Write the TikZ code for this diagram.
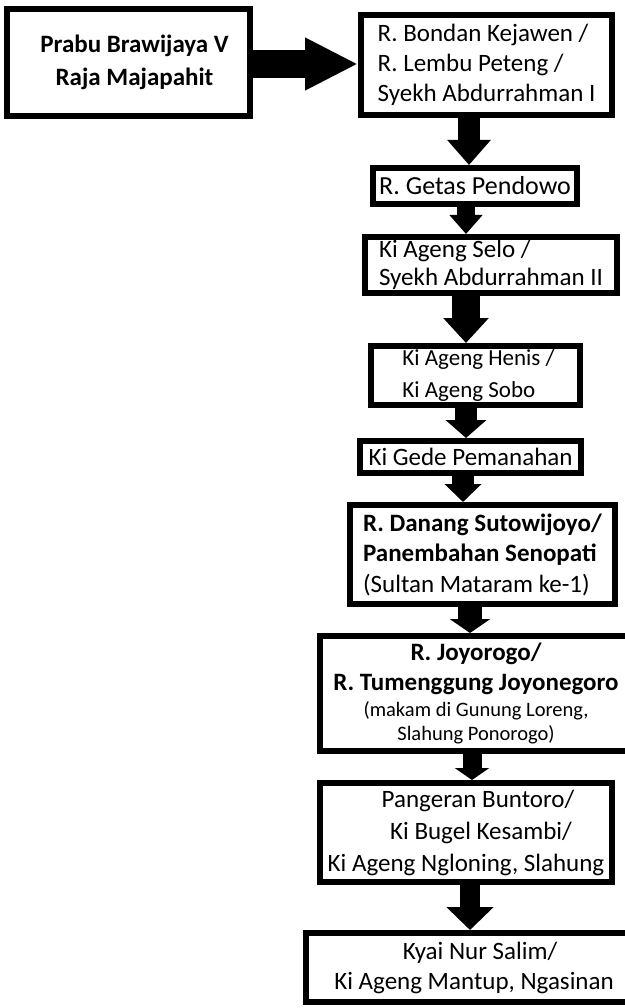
\documentclass[tikz,border=0pt]{standalone}
\usepackage{fontspec}
\setmainfont{Carlito}
\usetikzlibrary{arrows.meta}
\usetikzlibrary{positioning}

\begin{document}
\begin{tikzpicture}[x=1pt,y=-1pt,
      box/.style={draw,line width=6pt,inner sep=0pt,align=center,
         font=\fontsize{25}{32}\selectfont},
      boxl/.style={box,align=left},
      bigarr/.style n args={3}{line width=#1,-{Triangle[width=#2,length=#3]}}]
   \useasboundingbox (0,0) rectangle (624,1008);

   \node[box,minimum width=243pt,minimum height=107pt,
      font=\fontsize{25}{33}\selectfont\bfseries] (prabu) at (128.5,62.5)
      {\hspace*{12pt}Prabu Brawijaya V\\\hspace*{12pt}Raja Majapahit};
   \node[boxl,minimum width=251pt,minimum height=100pt,
      font=\fontsize{25}{30}\selectfont] (bondan) at (486.5,65)
      {R. Bondan Kejawen /\\R. Lembu Peteng /\\Syekh Abdurrahman I};
   \node[box,minimum width=204pt,minimum height=36pt,
      font=\fontsize{26}{30}\selectfont] (getas) at (475,186)
      {R. Getas Pendowo};
   \node[boxl,minimum width=252pt,minimum height=56pt,
      font=\fontsize{25}{28}\selectfont] (selo) at (491,265)
      {Ki Ageng Selo /\\Syekh Abdurrahman II};
   \node[boxl,minimum width=209pt,minimum height=59pt,
      font=\fontsize{23}{32}\selectfont] (henis) at (475.5,375.5)
      {\hspace*{6pt}Ki Ageng Henis /\\\hspace*{6pt}Ki Ageng Sobo};
   \node[box,minimum width=221pt,minimum height=32pt] (pemanahan) at (470.5,457)
      {Ki Gede Pemanahan};
   \node[boxl,minimum width=265pt,minimum height=99pt,
      font=\fontsize{25}{30.5}\selectfont] (danang) at (482.5,554.5)
      {\textbf{R. Danang Sutowijoyo/}\\\textbf{Panembahan Senopati}\\(Sultan Mataram ke-1)};
   \node[box,minimum width=312pt,minimum height=115pt,
      font=\fontsize{20.5}{24}\selectfont] (joyorogo) at (476,693.5)
      {{\fontsize{25}{24}\selectfont\bfseries R. Joyorogo/}\\[6pt]
       {\fontsize{25}{24}\selectfont\bfseries R. Tumenggung Joyonegoro}\\[2pt]
       (makam di Gunung Loreng,\\Slahung Ponorogo)};
   \node[box,minimum width=292pt,minimum height=99pt] (buntoro) at (466,832.5)
      {\hspace*{24pt}Pangeran Buntoro/\\\hspace*{30pt}Ki Bugel Kesambi/\\Ki Ageng Ngloning, Slahung};
   \node[box,minimum width=336pt,minimum height=69pt,
      font=\fontsize{25}{30}\selectfont] (mantup) at (474,967.5)
      {\hspace*{12pt}Kyai Nur Salim/\\Ki Ageng Mantup, Ngasinan};

   % arrows
   \draw[bigarr={28pt}{49pt}{53pt}] (prabu.east |- 0,64) -- (bondan.west |- 0,64);
   \draw[bigarr={22pt}{42pt}{25pt}] (bondan.south -| 469,0) -- (getas.north -| 469,0);
   \draw[bigarr={18pt}{32pt}{19pt}] (getas.south -| 466,0) -- (selo.north -| 466,0);
   \draw[bigarr={28pt}{44pt}{25pt}] (selo.south -| 466,0) -- (henis.north -| 466,0);
   \draw[bigarr={22pt}{40pt}{18pt}] (henis.south -| 466,0) -- (pemanahan.north -| 466,0);
   \draw[bigarr={22pt}{36pt}{18pt}] (pemanahan.south -| 463,0) -- (danang.north -| 463,0);
   \draw[bigarr={24pt}{40pt}{14pt}] (danang.south -| 470,0) -- (joyorogo.north -| 470,0);
   \draw[bigarr={19pt}{34pt}{12pt}] (joyorogo.south -| 472,0) -- (buntoro.north -| 472,0);
   \draw[bigarr={20pt}{46pt}{23pt}] ([yshift=5pt]buntoro.south -| 470,0) -- (mantup.north -| 470,0);
\end{tikzpicture}
\end{document}
